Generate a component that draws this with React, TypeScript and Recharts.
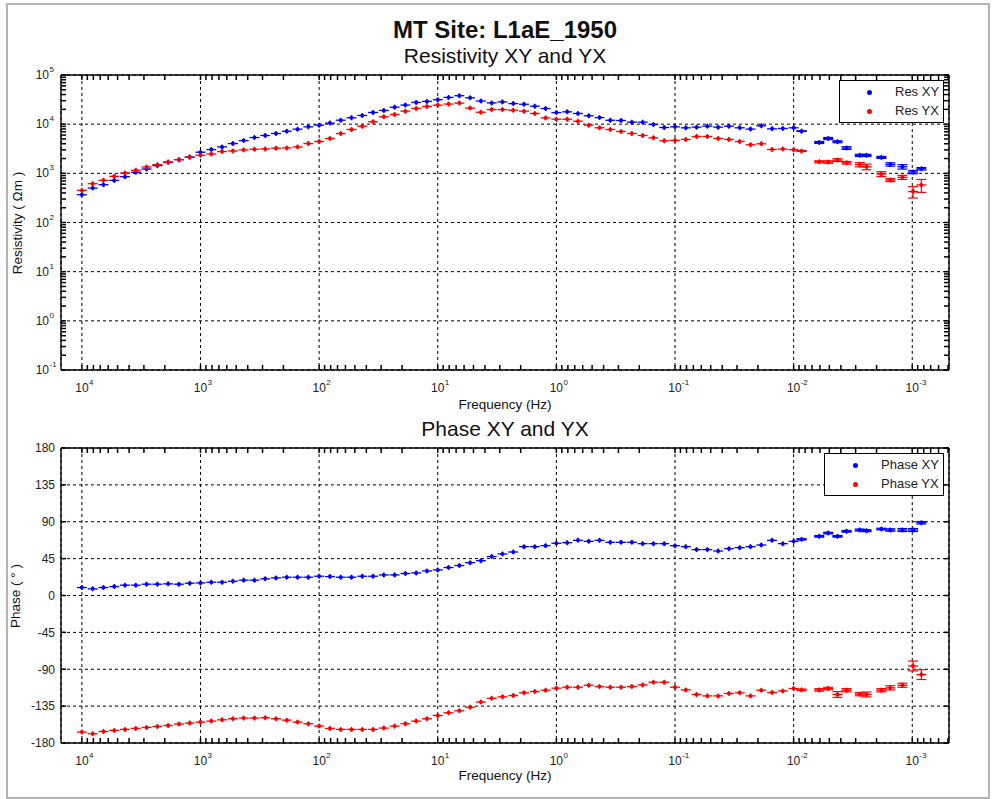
import { ScatterChart, Scatter, XAxis, YAxis, CartesianGrid, ErrorBar, ReferenceLine } from "recharts";

// frequencies in Hz, high to low
const freqs = [
  10000, 8111, 6579, 5337, 4329, 3511, 2848, 2310, 1874, 1520, 1233,
  1000, 811.1, 657.9, 533.7, 432.9, 351.1, 284.8, 231.0, 187.4, 152.0, 123.3,
  100, 81.11, 65.79, 53.37, 43.29, 35.11, 28.48, 23.1, 18.74, 15.2, 12.33,
  10, 8.111, 6.579, 5.337, 4.329, 3.511, 2.848, 2.31, 1.874, 1.52, 1.233,
  1, 0.8111, 0.6579, 0.5337, 0.4329, 0.3511, 0.2848, 0.231, 0.1874, 0.152, 0.1233,
  0.1, 0.08111, 0.06579, 0.05337, 0.04329, 0.03511, 0.02848, 0.0231, 0.01874, 0.0152, 0.01233,
  0.01,
  0.00857, 0.00608, 0.00511, 0.00427, 0.00358, 0.00277, 0.00243, 0.00182, 0.00153, 0.00121, 0.000984, 0.000838,
];

const resXY = [
  367, 501, 588, 719, 855, 1050, 1224, 1432, 1675, 1900, 2150,
  2690, 3040, 3450, 4030, 4640, 5350, 5880, 6450, 7190, 7910, 8830,
  9540, 10500, 12050, 13460, 15030, 17300, 19000, 22200, 24500, 27700, 29000,
  31400, 35000, 37900, 34400, 29500, 27100, 28400, 26200, 25400, 23200, 20800,
  17200, 17800, 16500, 14800, 13600, 12000, 11900, 11000, 11000, 9850, 8550,
  8830, 8430, 8700, 9110, 8700, 9110, 8430, 7930, 9250, 8040, 8170,
  8430,
  7210, 4250, 5120, 4390, 3270, 2320, 2320, 2110, 1520, 1360, 1060, 1240,
];

const resYX = [
  450, 615, 720, 869, 1016, 1151, 1346, 1503, 1703, 1900, 2120,
  2330, 2480, 2770, 2860, 2995, 3090, 3140, 3240, 3290, 3450, 4030,
  4430, 5100, 6450, 7790, 9100, 11160, 14100, 15700, 18400, 20900, 22900,
  24400, 25600, 26800, 21200, 17500, 19800, 19800, 19200, 18400, 16500, 13400,
  12600, 12600, 11500, 9550, 8440, 7800, 7100, 6460, 5890, 5280, 4590,
  4670, 4890, 5620, 5620, 5120, 4890, 4450, 3810, 3990, 3060, 3110,
  3020,
  2840, 1720, 1700, 1860, 1640, 1500, 1360, 970, 730, 830, 425, 580,
];

const phaseXY = [
  9.7, 8.1, 9.7, 10.9, 12.6, 12.6, 13.8, 13.8, 14.2, 13.8, 15.0,
  15.4, 16.2, 16.2, 17.4, 18.7, 18.7, 20.3, 21.5, 22.3, 22.3, 22.3,
  23.5, 23.1, 22.3, 22.3, 23.5, 23.5, 25.1, 25.1, 26.8, 27.6, 30.0,
  31.2, 34.1, 36.5, 40.1, 42.5, 47.5, 50.7, 53.1, 59.6, 59.6, 60.8,
  63.7, 64.5, 67.3, 66.1, 67.3, 64.9, 64.9, 64.9, 63.3, 63.3, 63.3,
  60.8, 59.6, 56.0, 56.0, 54.3, 57.2, 58.4, 59.6, 61.6, 67.3, 63.3,
  66.1,
  68.5, 72.2, 76.2, 72.2, 78.3, 79.9, 79.1, 81.1, 79.9, 79.9, 79.9, 88.8,
];

const phaseYX = [
  -166.7, -168.7, -165.9, -164.6, -163.4, -162.2, -161.0, -159.8, -158.6, -156.9, -155.7,
  -154.5, -153.3, -151.7, -150.4, -149.6, -149.6, -149.2, -150.4, -152.1, -154.5, -156.5,
  -159.4, -162.2, -163.4, -163.4, -163.4, -163.4, -161.8, -159.4, -156.5, -153.3, -150.4,
  -146.4, -143.1, -140.7, -136.3, -130.0, -125.5, -123.7, -122.1, -118.8, -117.2, -115.6,
  -113.1, -111.9, -111.9, -109.5, -111.1, -111.9, -111.9, -111.1, -109.1, -105.8, -105.8,
  -111.9, -115.2, -120.8, -122.5, -122.5, -119.6, -118.8, -122.5, -115.6, -118.4, -116.4,
  -113.5,
  -115.2, -115.2, -113.5, -120.8, -115.6, -120.4, -120.8, -115.6, -112.7, -109.5, -86.0, -96.5,
];

// error bars only visible on the long-period tail (last 12 points)
const resXYTailErr = [100, 200, 250, 200, 200, 120, 120, 100, 120, 140, 80, 70];
const resYXTailErr = [60, 80, 100, 120, 100, 150, 180, 110, 50, 80, 110, 170];
const phaseXYTailErr = [0.8, 1, 1, 1, 1, 1.2, 1.2, 1, 1.5, 1.8, 1.8, 1.5];
const phaseYXTailErr = [1, 1.5, 1.5, 3.5, 2, 2, 3, 2, 2.5, 2.5, 6, 6];

const freqTicks = [10000, 1000, 100, 10, 1, 0.1, 0.01, 0.001];
const resTicks = [0.1, 1, 10, 100, 1000, 10000, 100000];
const phaseTicks = [-180, -135, -90, -45, 0, 45, 90, 135, 180];

const X_DOMAIN = [0.00049, 15000];
const RES_DOMAIN = [0.1, 100000];
const PHASE_DOMAIN = [-180, 180];
const BLUE = "#0000ff";
const RED = "#ff0000";
const FONT = "'Liberation Sans', Arial, sans-serif";

const PLOT_W = 888;
const PLOT_H = 295;
const TICK_PX = 5;

const minorLog = (lo: number, hi: number) => {
  const out: number[] = [];
  for (let d = lo; d <= hi; d++) {
    for (let m = 1; m <= 9; m++) out.push(m * Math.pow(10, d));
  }
  return out;
};
const freqMinor = minorLog(-4, 4).filter((v) => v >= X_DOMAIN[0] && v <= X_DOMAIN[1]);
const resMinor = minorLog(-1, 4).concat([100000]);

const tailStart = freqs.length - 12;
const rows = (vals: number[], tail: number[]) =>
  freqs.map((f, i) => ({ f, v: vals[i], e: i >= tailStart ? tail[i - tailStart] : 0 }));

const resXYData = rows(resXY, resXYTailErr);
const resYXData = rows(resYX, resYXTailErr);
const phaseXYData = rows(phaseXY, phaseXYTailErr);
const phaseYXData = rows(phaseYX, phaseYXTailErr);

// inward tick marks on all four sides, drawn as short reference segments
const xDecPerPx = (Math.log10(X_DOMAIN[1]) - Math.log10(X_DOMAIN[0])) / PLOT_W;
const xHi = X_DOMAIN[1];
const xHiIn = xHi * Math.pow(10, -TICK_PX * xDecPerPx);
const xLo = X_DOMAIN[0];
const xLoIn = xLo * Math.pow(10, TICK_PX * xDecPerPx);

function frameTicks(yDomain: number[], yTicks: number[], logY: boolean) {
  const yIn = (edge: number, dir: number) => {
    if (logY) {
      const dpp = (Math.log10(yDomain[1]) - Math.log10(yDomain[0])) / PLOT_H;
      return edge * Math.pow(10, dir * TICK_PX * dpp);
    }
    return edge + dir * TICK_PX * ((yDomain[1] - yDomain[0]) / PLOT_H);
  };
  const yTop = yDomain[1];
  const yBot = yDomain[0];
  const yTopIn = yIn(yTop, -1);
  const yBotIn = yIn(yBot, 1);
  const out: any[] = [];
  freqMinor.forEach((f, i) => {
    out.push(<ReferenceLine key={`xb${i}`} segment={[{ x: f, y: yBot }, { x: f, y: yBotIn }]} stroke="#000" strokeWidth={1.5} ifOverflow="visible" />);
    out.push(<ReferenceLine key={`xt${i}`} segment={[{ x: f, y: yTop }, { x: f, y: yTopIn }]} stroke="#000" strokeWidth={1.5} ifOverflow="visible" />);
  });
  yTicks.forEach((v, i) => {
    out.push(<ReferenceLine key={`yl${i}`} segment={[{ x: xHi, y: v }, { x: xHiIn, y: v }]} stroke="#000" strokeWidth={1.5} ifOverflow="visible" />);
    out.push(<ReferenceLine key={`yr${i}`} segment={[{ x: xLo, y: v }, { x: xLoIn, y: v }]} stroke="#000" strokeWidth={1.5} ifOverflow="visible" />);
  });
  // box edges on top and right
  out.push(<ReferenceLine key="top" segment={[{ x: xHi, y: yTop }, { x: xLo, y: yTop }]} stroke="#000" strokeWidth={1.4} ifOverflow="visible" />);
  out.push(<ReferenceLine key="right" segment={[{ x: xLo, y: yBot }, { x: xLo, y: yTop }]} stroke="#000" strokeWidth={1.4} ifOverflow="visible" />);
  return out;
}

const XPowTick = (props: any) => {
  const { x, y, payload } = props;
  const e = Math.round(Math.log10(payload.value));
  return (
    <g>
      <text x={x} y={y} textAnchor="middle" fontSize={12} fill="#222" fontFamily={FONT}>10</text>
      <text x={x + 7} y={y - 7} textAnchor="start" fontSize={8} fill="#222" fontFamily={FONT}>{e}</text>
    </g>
  );
};

const YPowTick = (props: any) => {
  const { x, y, payload } = props;
  const e = Math.round(Math.log10(payload.value));
  return (
    <g>
      <text x={x - 5} y={y + 4} textAnchor="end" fontSize={12} fill="#222" fontFamily={FONT}>10</text>
      <text x={x - 4.5} y={y - 3} textAnchor="start" fontSize={8} fill="#222" fontFamily={FONT}>{e}</text>
    </g>
  );
};

// MATLAB errorbar marker: dot with a short horizontal cap
const dot = (color: string) => (p: any) => (
  <g>
    <line x1={p.cx - 5} x2={p.cx + 5} y1={p.cy} y2={p.cy} stroke={color} strokeWidth={1.3} />
    <line x1={p.cx} x2={p.cx} y1={p.cy - 2.5} y2={p.cy + 2.5} stroke={color} strokeWidth={1.3} />
    <circle cx={p.cx} cy={p.cy} r={2} fill={color} />
  </g>
);

const W = 992;
const H = 340;
const MARGIN = { top: 15, right: 43, left: 0, bottom: 0 };
const AXIS_LINE = { stroke: "#000", strokeWidth: 1.4 };

function ResChart() {
  return (
    <ScatterChart width={W} height={H} margin={MARGIN}>
      <CartesianGrid stroke="#000" strokeDasharray="3 3" />
      <XAxis type="number" dataKey="f" scale="log" domain={X_DOMAIN} allowDataOverflow reversed
        ticks={freqTicks} interval={0} height={30} tickLine={false} tickSize={0} tickMargin={22}
        tick={XPowTick} axisLine={AXIS_LINE} />
      <YAxis type="number" dataKey="v" scale="log" domain={RES_DOMAIN} allowDataOverflow
        ticks={resTicks} interval={0} width={61} tickLine={false} tickSize={0} tickMargin={7}
        tick={YPowTick} axisLine={AXIS_LINE} />
      {frameTicks(RES_DOMAIN, resMinor, true)}
      <Scatter data={resXYData} shape={dot(BLUE)} isAnimationActive={false}>
        <ErrorBar dataKey="e" direction="y" width={5} stroke={BLUE} strokeWidth={1.2} />
      </Scatter>
      <Scatter data={resYXData} shape={dot(RED)} isAnimationActive={false}>
        <ErrorBar dataKey="e" direction="y" width={5} stroke={RED} strokeWidth={1.2} />
      </Scatter>
    </ScatterChart>
  );
}

function PhaseChart() {
  return (
    <ScatterChart width={W} height={H} margin={MARGIN}>
      <CartesianGrid stroke="#000" strokeDasharray="3 3" />
      <XAxis type="number" dataKey="f" scale="log" domain={X_DOMAIN} allowDataOverflow reversed
        ticks={freqTicks} interval={0} height={30} tickLine={false} tickSize={0} tickMargin={22}
        tick={XPowTick} axisLine={AXIS_LINE} />
      <YAxis type="number" dataKey="v" domain={PHASE_DOMAIN} allowDataOverflow
        ticks={phaseTicks} interval={0} width={61} tickLine={false} tickSize={0} tickMargin={6}
        tick={{ fontSize: 12, fill: "#222", fontFamily: FONT }} axisLine={AXIS_LINE} />
      {frameTicks(PHASE_DOMAIN, phaseTicks, false)}
      <Scatter data={phaseXYData} shape={dot(BLUE)} isAnimationActive={false}>
        <ErrorBar dataKey="e" direction="y" width={5} stroke={BLUE} strokeWidth={1.2} />
      </Scatter>
      <Scatter data={phaseYXData} shape={dot(RED)} isAnimationActive={false}>
        <ErrorBar dataKey="e" direction="y" width={5} stroke={RED} strokeWidth={1.2} />
      </Scatter>
    </ScatterChart>
  );
}

function LegendBox({ left, top, width, height, items, textLeft, markerLeft }: any) {
  return (
    <div style={{ position: "absolute", left, top, width, height, border: "1px solid #000", background: "#fff", boxSizing: "border-box" }}>
      {items.map((it: any, i: number) => (
        <div key={it.label}>
          <div style={{ position: "absolute", left: markerLeft - 2.5, top: 11 + i * 19 - 2.5, width: 5, height: 5, borderRadius: 3, background: it.color }} />
          <div style={{ position: "absolute", left: textLeft, top: 3 + i * 19, fontSize: 13, fontFamily: FONT, color: "#222" }}>{it.label}</div>
        </div>
      ))}
    </div>
  );
}

const txt = (extra: any) => ({ position: "absolute" as const, fontFamily: FONT, color: "#111", whiteSpace: "nowrap" as const, ...extra });

export default function App() {
  return (
    <div style={{ position: "absolute", left: 0, top: 0, width: 992, height: 799, background: "#fff", overflow: "hidden" }}>
      <div style={{ position: "absolute", left: 6, top: 3, width: 980, height: 792, border: "2px solid #b4b4b4" }} />
      <div style={txt({ left: 0, width: 1010, top: 16, textAlign: "center", fontSize: 24, fontWeight: "bold" })}>MT Site: L1aE_1950</div>
      <div style={txt({ left: 0, width: 1010, top: 44, textAlign: "center", fontSize: 21 })}>Resistivity XY and YX</div>
      <div style={{ position: "absolute", left: 0, top: 60 }}><ResChart /></div>
      <div style={txt({ left: 0, width: 1010, top: 397, textAlign: "center", fontSize: 13.5 })}>Frequency (Hz)</div>
      <div style={txt({ left: 0, width: 1010, top: 417, textAlign: "center", fontSize: 21 })}>Phase XY and YX</div>
      <div style={{ position: "absolute", left: 0, top: 433 }}><PhaseChart /></div>
      <div style={txt({ left: 0, width: 1010, top: 768, textAlign: "center", fontSize: 13.5 })}>Frequency (Hz)</div>
      <div style={txt({ left: 17, top: 223, fontSize: 13.5, transform: "translate(-50%, -50%) rotate(-90deg)" })}>Resistivity ( Ωm )</div>
      <div style={txt({ left: 15, top: 596, fontSize: 13.5, transform: "translate(-50%, -50%) rotate(-90deg)" })}>Phase ( ° )</div>
      <LegendBox left={839} top={80} width={105} height={43} markerLeft={29} textLeft={55}
        items={[{ label: "Res XY", color: BLUE }, { label: "Res YX", color: RED }]} />
      <LegendBox left={824} top={453} width={120} height={43} markerLeft={30} textLeft={56}
        items={[{ label: "Phase XY", color: BLUE }, { label: "Phase YX", color: RED }]} />
    </div>
  );
}
